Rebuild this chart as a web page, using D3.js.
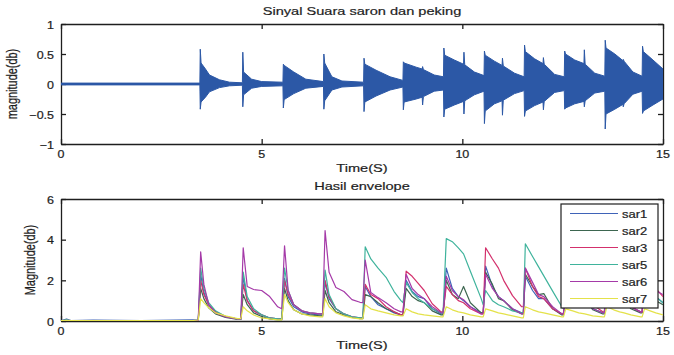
<!DOCTYPE html>
<html>
<head>
<meta charset="utf-8">
<script src="https://cdn.jsdelivr.net/npm/d3@7"></script>
<style>
  body { margin: 0; background: #fff; }
  svg { display: block; font-family: "Liberation Sans", Arial, sans-serif; }
</style>
</head>
<body>
<svg id="chart" width="674" height="355"></svg>
<script>
// ---- data ----
const xTicks = [0, 5, 10, 15];
const waveTicks = [-1, -0.5, 0, 0.5, 1];
const envTicks = [0, 2, 4, 6];

// upper / lower envelope of the raw signal (top panel)
const waveTime  = [0, 3.46, 3.47, 3.49, 3.6, 3.7, 3.95, 4.2, 4.52, 4.53, 4.55, 4.75, 5.0, 5.53, 5.54, 5.56, 5.8, 6.1,
  6.54, 6.55, 6.57, 6.75, 7.0, 7.54, 7.55, 7.57, 7.85, 8.2, 8.52, 8.53, 8.55, 8.85, 9.0, 9.01, 9.03, 9.3,
  9.53, 9.54, 9.56, 9.8, 10.03, 10.04, 10.06, 10.3, 10.54, 10.55, 10.57, 10.8, 10.99, 11.0, 11.02, 11.3,
  11.54, 11.55, 11.57, 11.8, 12.01, 12.02, 12.04, 12.3, 12.54, 12.55, 12.57, 12.8, 13.03, 13.04, 13.06, 13.3,
  13.55, 13.56, 13.58, 13.8, 14.0, 14.01, 14.03, 14.25, 14.48, 14.49, 14.51, 14.75, 15.0];
const waveUpper = [0.015, 0.015, 0.58, 0.35, 0.25, 0.15, 0.07, 0.03, 0.02, 0.53, 0.2, 0.08, 0.04, 0.03, 0.33, 0.31, 0.2, 0.08,
  0.04, 0.5, 0.35, 0.12, 0.05, 0.03, 0.43, 0.33, 0.23, 0.12, 0.06, 0.37, 0.35, 0.28, 0.25, 0.29, 0.24, 0.15,
  0.12, 0.6, 0.48, 0.4, 0.33, 0.53, 0.32, 0.2, 0.14, 0.55, 0.48, 0.38, 0.31, 0.43, 0.3, 0.18,
  0.12, 0.65, 0.54, 0.42, 0.34, 0.44, 0.33, 0.16, 0.12, 0.55, 0.5, 0.4, 0.34, 0.57, 0.33, 0.18,
  0.13, 0.73, 0.6, 0.5, 0.39, 0.41, 0.38, 0.2, 0.13, 0.63, 0.54, 0.4, 0.25];
const waveLower = [-0.015, -0.015, -0.42, -0.3, -0.22, -0.13, -0.06, -0.03, -0.02, -0.38, -0.18, -0.07, -0.04, -0.03, -0.4, -0.26, -0.16, -0.07,
  -0.04, -0.42, -0.28, -0.1, -0.05, -0.03, -0.46, -0.3, -0.2, -0.1, -0.05, -0.43, -0.3, -0.25, -0.22, -0.35, -0.21, -0.12,
  -0.1, -0.55, -0.42, -0.35, -0.29, -0.5, -0.28, -0.18, -0.12, -0.66, -0.45, -0.33, -0.28, -0.52, -0.27, -0.16,
  -0.11, -0.54, -0.45, -0.36, -0.3, -0.43, -0.29, -0.14, -0.11, -0.42, -0.4, -0.33, -0.29, -0.38, -0.28, -0.15,
  -0.12, -0.75, -0.5, -0.42, -0.34, -0.38, -0.33, -0.17, -0.12, -0.49, -0.45, -0.35, -0.25];

// envelope curves (bottom panel), one value per entry of envTime
const envTime = [0, 0.14, 0.25, 0.8, 2.0, 3.3,
  3.42, 3.48, 3.56, 3.68, 3.85, 4.1, 4.4,
  4.48, 4.54, 4.64, 4.8, 5.0, 5.2, 5.4,
  5.5, 5.57, 5.66, 5.8, 6.0, 6.2, 6.45,
  6.52, 6.58, 6.68, 6.85, 7.05, 7.25, 7.45,
  7.52, 7.58, 7.72, 7.9, 8.1, 8.3, 8.47,
  8.52, 8.6, 8.75, 8.9, 9.05, 9.25, 9.47,
  9.52, 9.6, 9.75, 9.9, 10.03, 10.2, 10.47,
  10.52, 10.58, 10.75, 10.9, 11.03, 11.25, 11.48,
  11.52, 11.57, 11.75, 11.9, 12.03, 12.25, 12.48,
  12.52, 12.58, 12.75, 12.9, 13.05, 13.25, 13.5,
  13.54, 13.6, 13.77, 13.92, 14.03, 14.2, 14.44,
  14.48, 14.54, 14.68, 14.82, 15.0];
const sar1 = [0.02, 0.1, 0.02, 0.05, 0.02, 0.06,
  0.05, 2.3, 1.4, 0.8, 0.45, 0.22, 0.1,
  0.1, 2.2, 1.0, 0.5, 0.3, 0.15, 0.1,
  0.1, 2.1, 1.2, 0.7, 0.45, 0.35, 0.3,
  0.3, 1.9, 1.1, 0.6, 0.35, 0.2, 0.15,
  0.15, 1.7, 1.2, 0.8, 0.6, 0.4, 0.3,
  0.3, 2.0, 1.45, 1.2, 1.1, 0.6, 0.35,
  0.35, 2.6, 1.6, 1.2, 1.0, 0.7, 0.4,
  0.4, 2.7, 1.7, 1.2, 1.0, 0.6, 0.4,
  0.4, 2.2, 1.5, 1.1, 1.1, 0.6, 0.35,
  0.35, 2.3, 1.5, 1.1, 1.0, 0.6, 0.4,
  0.4, 2.5, 1.6, 1.2, 1.1, 0.7, 0.45,
  0.45, 2.2, 1.5, 1.2, 0.9];
const sar2 = [0.01, 0.03, 0.01, 0.02, 0.01, 0.02,
  0.03, 1.6, 1.1, 0.65, 0.35, 0.18, 0.08,
  0.08, 1.3, 0.8, 0.4, 0.22, 0.1, 0.06,
  0.06, 1.6, 1.0, 0.55, 0.35, 0.3, 0.25,
  0.25, 1.5, 0.9, 0.45, 0.3, 0.18, 0.12,
  0.12, 1.3, 1.2, 0.9, 0.6, 0.45, 0.3,
  0.3, 1.6, 1.2, 1.0, 0.9, 0.5, 0.3,
  0.3, 2.0, 1.3, 1.1, 1.7, 0.9, 0.4,
  0.4, 2.4, 1.8, 1.1, 1.0, 0.55, 0.35,
  0.35, 2.3, 1.7, 1.3, 1.35, 0.6, 0.3,
  0.3, 2.0, 1.4, 1.0, 1.2, 0.55, 0.35,
  0.35, 2.2, 1.5, 1.0, 1.1, 0.6, 0.4,
  0.4, 1.8, 1.3, 1.0, 0.8];
const sar3 = [0.01, 0.02, 0.01, 0.01, 0.01, 0.02,
  0.03, 2.0, 1.3, 0.8, 0.45, 0.22, 0.1,
  0.1, 1.8, 1.0, 0.5, 0.3, 0.15, 0.1,
  0.1, 2.0, 1.3, 0.8, 0.5, 0.4, 0.35,
  0.35, 2.0, 1.2, 0.6, 0.35, 0.2, 0.15,
  0.15, 1.8, 1.3, 1.1, 0.7, 0.45, 0.3,
  0.3, 2.45, 2.2, 1.85, 1.5, 0.85, 0.45,
  0.45, 1.7, 1.3, 1.0, 0.9, 0.6, 0.35,
  0.35, 3.6, 3.05, 2.6, 2.0, 1.25, 0.7,
  0.7, 2.6, 1.7, 1.2, 1.1, 0.6, 0.35,
  0.35, 2.8, 2.2, 1.7, 1.4, 0.8, 0.45,
  0.45, 2.5, 1.9, 1.4, 1.2, 0.7, 0.45,
  0.45, 2.2, 1.9, 1.6, 1.2];
const sar5 = [0.01, 0.04, 0.01, 0.02, 0.01, 0.02,
  0.03, 2.6, 1.6, 0.9, 0.5, 0.22, 0.1,
  0.1, 2.4, 1.2, 0.6, 0.3, 0.15, 0.1,
  0.1, 2.6, 1.5, 0.8, 0.5, 0.4, 0.35,
  0.35, 2.5, 1.3, 0.6, 0.35, 0.2, 0.15,
  0.15, 3.65, 3.05, 2.6, 2.15, 1.45, 1.0,
  0.9, 1.9, 1.4, 1.1, 0.9, 0.6, 0.4,
  0.4, 4.05, 3.9, 3.6, 3.3, 2.45, 1.1,
  0.8, 1.5, 1.0, 0.8, 0.7, 0.5, 0.4,
  0.4, 3.8, 3.17, 2.66, 2.22, 1.47, 0.7,
  0.6, 1.8, 1.3, 1.0, 0.9, 0.6, 0.4,
  0.4, 3.6, 3.0, 2.5, 2.1, 1.5, 0.8,
  0.7, 2.0, 1.5, 1.2, 0.9];
const sar6 = [0.01, 0.02, 0.01, 0.01, 0.01, 0.02,
  0.03, 3.4, 1.8, 0.8, 0.4, 0.2, 0.1,
  0.1, 3.6, 1.7, 1.55, 1.5, 1.2, 0.7,
  0.6, 3.7, 1.5, 0.8, 0.5, 0.4, 0.35,
  0.35, 4.45, 2.4, 1.65, 1.45, 1.05, 0.92,
  0.9, 3.0, 1.4, 1.15, 0.9, 0.6, 0.45,
  0.45, 2.3, 1.6, 1.3, 1.1, 0.7, 0.4,
  0.4, 2.2, 1.5, 1.2, 1.05, 0.7, 0.35,
  0.35, 2.3, 1.6, 1.2, 1.0, 0.6, 0.35,
  0.35, 2.6, 1.9, 1.3, 1.2, 0.7, 0.35,
  0.35, 2.4, 1.7, 1.2, 1.1, 0.6, 0.4,
  0.4, 2.6, 1.8, 1.3, 1.1, 0.7, 0.45,
  0.45, 2.0, 1.7, 1.5, 1.3];
const sar7 = [0.02, 0.03, 0.02, 0.02, 0.02, 0.03,
  0.05, 1.1, 0.9, 0.65, 0.4, 0.25, 0.12,
  0.12, 0.7, 0.5, 0.3, 0.15, 0.1, 0.06,
  0.06, 1.3, 0.9, 0.55, 0.35, 0.25, 0.2,
  0.2, 1.1, 0.7, 0.4, 0.25, 0.15, 0.1,
  0.1, 0.8, 0.6, 0.5, 0.4, 0.3, 0.25,
  0.25, 0.6, 0.45, 0.35, 0.3, 0.25, 0.2,
  0.2, 0.7, 0.55, 0.45, 0.4, 0.3, 0.2,
  0.2, 0.6, 0.5, 0.4, 0.35, 0.25, 0.15,
  0.15, 0.7, 0.55, 0.45, 0.4, 0.3, 0.2,
  0.2, 0.6, 0.5, 0.4, 0.35, 0.25, 0.2,
  0.2, 0.7, 0.55, 0.45, 0.4, 0.3, 0.2,
  0.2, 0.6, 0.5, 0.4, 0.3];

const seriesNames = ['sar1', 'sar2', 'sar3', 'sar5', 'sar6', 'sar7'];
const seriesValues = [sar1, sar2, sar3, sar5, sar6, sar7];
const seriesColors = ['#3f63b8', '#3d6650', '#d3306c', '#3fb39c', '#a53aa8', '#e4e24a'];

// ---- layout ----
const svg = d3.select('#chart');
const top_area = { left: 61, right: 663, top: 24, bottom: 144 };
const bot_area = { left: 61, right: 663, top: 199, bottom: 321 };
const ink = '#1e1e1e';

function text(x, y, str, size, anchor, sy, rotate) {
  return svg.append('text')
    .attr('transform', `translate(${x},${y}) scale(1,${sy})` + (rotate ? ' rotate(-90)' : ''))
    .attr('text-anchor', anchor)
    .attr('font-size', size)
    .attr('fill', ink)
    .attr('stroke', ink)
    .attr('stroke-width', 0.25)
    .text(str);
}

function frame(area, x, y, yTicks, yFmt, clipId) {
  const mk = (axis, tx, ty) => svg.append('g')
    .attr('transform', `translate(${tx},${ty})`)
    .call(axis.tickSizeInner(-5).tickSizeOuter(0).tickFormat(''))
    .call(g => g.selectAll('path, line').attr('stroke', ink).attr('stroke-width', 1.3));
  mk(d3.axisBottom(x).tickValues(xTicks), 0, area.bottom);
  mk(d3.axisTop(x).tickValues(xTicks), 0, area.top);
  mk(d3.axisLeft(y).tickValues(yTicks), area.left, 0);
  mk(d3.axisRight(y).tickValues(yTicks), area.right, 0);

  xTicks.forEach(t => text(x(t), area.bottom + 14, t, 12.5, 'middle', 0.9));
  yTicks.forEach(t => text(area.left - 7, y(t) + 4.5, yFmt(t), 12.5, 'end', 0.9));

  svg.append('clipPath').attr('id', clipId)
    .append('rect')
    .attr('x', area.left).attr('y', area.top)
    .attr('width', area.right - area.left).attr('height', area.bottom - area.top);
}

// ---- top panel: raw signal ----
const x1 = d3.scaleLinear().domain([0, 15]).range([top_area.left, top_area.right]);
const y1 = d3.scaleLinear().domain([-1, 1]).range([top_area.bottom, top_area.top]);

frame(top_area, x1, y1, waveTicks, d => d3.format('')(d), 'clip-top');

const wave = d3.area()
  .x((d, i) => x1(waveTime[i]))
  .y0((d, i) => y1(waveLower[i]))
  .y1((d, i) => y1(waveUpper[i]));

svg.append('path')
  .datum(waveTime)
  .attr('clip-path', 'url(#clip-top)')
  .attr('d', wave)
  .attr('fill', '#2c58a6')
  .attr('stroke', '#2c58a6')
  .attr('stroke-width', 1);

text((top_area.left + top_area.right) / 2, 15, 'Sinyal Suara saron dan peking', 14.6, 'middle', 0.75);
text((top_area.left + top_area.right) / 2, 172, 'Time(S)', 14.6, 'middle', 0.75);
text(17, (top_area.top + top_area.bottom) / 2, 'magnitude(db)', 14.6, 'middle', 0.75, true);

// ---- bottom panel: envelopes ----
const x2 = d3.scaleLinear().domain([0, 15]).range([bot_area.left, bot_area.right]);
const y2 = d3.scaleLinear().domain([0, 6]).range([bot_area.bottom, bot_area.top]);

frame(bot_area, x2, y2, envTicks, d => d, 'clip-bot');

const env = d3.line()
  .x((d, i) => x2(envTime[i]))
  .y(d => y2(d));

svg.append('g')
  .attr('clip-path', 'url(#clip-bot)')
  .selectAll('path')
  .data(seriesValues)
  .join('path')
  .attr('d', env)
  .attr('fill', 'none')
  .attr('stroke', (d, i) => seriesColors[i])
  .attr('stroke-width', 1.2)
  .attr('stroke-linejoin', 'round');

text((bot_area.left + bot_area.right) / 2, 190, 'Hasil envelope', 14.6, 'middle', 0.75);
text((bot_area.left + bot_area.right) / 2, 349, 'Time(S)', 14.6, 'middle', 0.75);
text(35, (bot_area.top + bot_area.bottom) / 2, 'Magnitude(db)', 14.6, 'middle', 0.75, true);

// ---- legend ----
const legendY = d3.scaleBand().domain(seriesNames).range([205, 307]);
svg.append('rect')
  .attr('x', 561).attr('y', 204).attr('width', 97).attr('height', 104)
  .attr('fill', '#fff').attr('stroke', ink).attr('stroke-width', 1.2);

const legendRows = svg.append('g')
  .selectAll('g')
  .data(seriesNames)
  .join('g')
  .attr('transform', d => `translate(0,${legendY(d) + legendY.bandwidth() / 2})`);

legendRows.append('line')
  .attr('x1', 570).attr('x2', 618)
  .attr('stroke', (d, i) => seriesColors[i])
  .attr('stroke-width', 1.2);

legendRows.append('text')
  .attr('transform', 'translate(622,4) scale(1,0.8)')
  .attr('font-size', 13)
  .attr('fill', ink)
  .attr('stroke', ink)
  .attr('stroke-width', 0.25)
  .text(d => d);
</script>
</body>
</html>
